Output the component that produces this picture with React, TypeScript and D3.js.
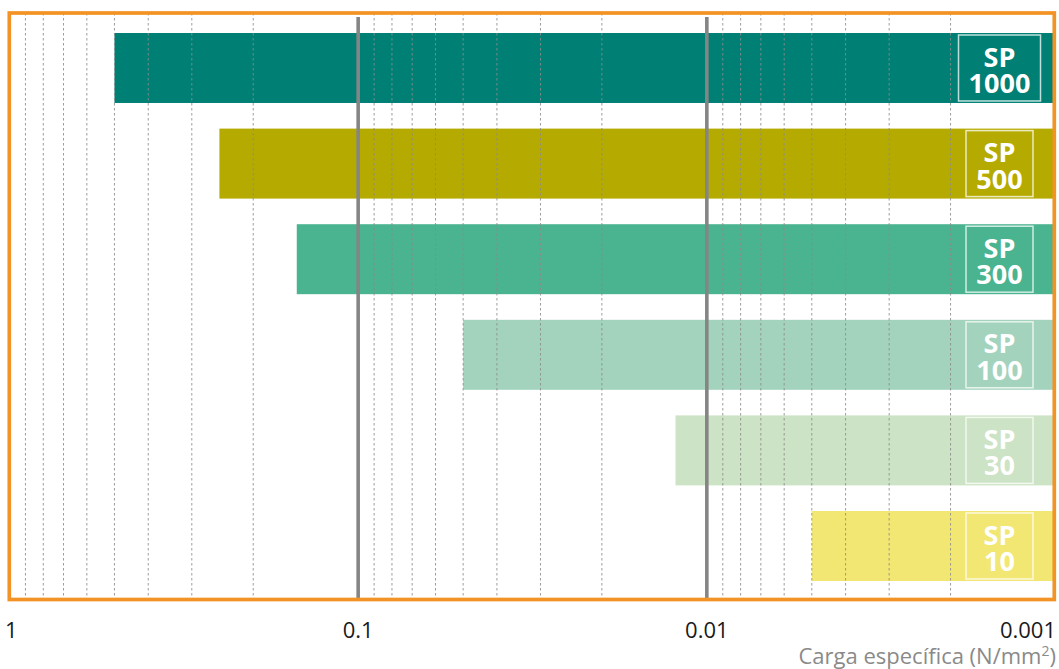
import React from "react";
import * as d3 from "d3";

const categories = ["1000", "500", "300", "100", "30", "10"];
const minValues = [0.5, 0.25, 0.15, 0.05, 0.0123, 0.005];
const barColors = ["#008075", "#b5ab00", "#4ab38f", "#a3d3bd", "#cde3c5", "#f2e772"];
const tickValues = [1, 0.1, 0.01, 0.001];
const tickLabels = ["1", "0.1", "0.01", "0.001"];
const axisTitle = "Carga específica (N/mm";

const W = 1059;
const H = 669;

export default function App() {
  const x = d3.scaleLog().domain([1, 0.001]).range([9.5, 1055.5]);
  const y = d3
    .scaleBand<string>()
    .domain(categories)
    .range([33, 581])
    .paddingInner(0.268)
    .paddingOuter(0);

  const minor: number[] = [];
  [1, 0.1, 0.01].forEach((dec) => {
    for (let k = 2; k <= 9; k++) minor.push((dec * k) / 10);
  });
  const majors = [0.1, 0.01];

  const frame = { x0: 9.3, y0: 13, x1: 1054.3, y1: 599.5 };
  const labelCx = 999.5;

  return (
    <svg
      width={W}
      height={H}
      style={{ position: "absolute", left: 0, top: 0, display: "block", background: "#fff" }}
    >
      {categories.map((c, i) => (
        <rect
          key={c}
          x={x(minValues[i])}
          y={y(c)}
          width={x(0.001) - x(minValues[i])}
          height={y.bandwidth()}
          fill={barColors[i]}
        />
      ))}
      {minor.map((v) => (
        <line
          key={"m" + v}
          x1={x(v)}
          x2={x(v)}
          y1={frame.y0}
          y2={frame.y1}
          stroke="#8c8c8c"
          strokeWidth={1}
          strokeDasharray="2.5,2.5"
          opacity={0.85}
        />
      ))}
      {majors.map((v) => (
        <line
          key={"M" + v}
          x1={x(v)}
          x2={x(v)}
          y1={17}
          y2={frame.y1}
          stroke="#858585"
          strokeWidth={3.6}
        />
      ))}
      {categories.map((c, i) => {
        const top = y(c) as number;
        const bw = Math.max(67, c.length * 16.5 + 16);
        return (
          <g key={"l" + c}>
            <rect
              x={labelCx - bw / 2}
              y={top + 2}
              width={bw}
              height={y.bandwidth() - 4}
              fill="none"
              stroke="#ffffff"
              strokeOpacity={0.75}
              strokeWidth={1.5}
            />
            <text
              x={labelCx}
              textAnchor="middle"
              fill="#ffffff"
              fontFamily="'Open Sans', sans-serif"
              fontWeight={700}
              fontSize={27}
            >
              <tspan x={labelCx} y={top + 33.5}>SP</tspan>
              <tspan x={labelCx} y={top + 60}>{c}</tspan>
            </text>
          </g>
        );
      })}
      <rect
        x={frame.x0}
        y={frame.y0}
        width={frame.x1 - frame.x0}
        height={frame.y1 - frame.y0}
        fill="none"
        stroke="#f39325"
        strokeWidth={3.7}
      />
      {tickValues.map((v, i) => (
        <text
          key={"t" + v}
          x={i === 0 ? 5 : i === tickValues.length - 1 ? 1056 : x(v)}
          y={638}
          textAnchor={i === 0 ? "start" : i === tickValues.length - 1 ? "end" : "middle"}
          fontFamily="'Open Sans', sans-serif"
          fontSize={22}
          fill="#1a1a1a"
        >
          {tickLabels[i]}
        </text>
      ))}
      <text
        x={1056}
        y={664}
        textAnchor="end"
        fontFamily="'Open Sans', sans-serif"
        fontSize={22}
        fill="#8a8a8a"
      >
        {axisTitle}
        <tspan dy={-8} fontSize={14}>2</tspan>
        <tspan dy={8}>)</tspan>
      </text>
    </svg>
  );
}
